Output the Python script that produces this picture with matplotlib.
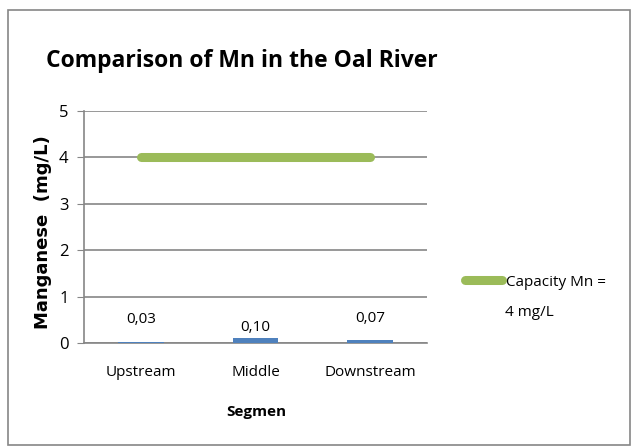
import matplotlib
matplotlib.use("Agg")
import matplotlib.pyplot as plt
from matplotlib.patches import Rectangle

# data
segments = ["Upstream", "Middle", "Downstream"]
mn_values = [0.03, 0.10, 0.07]
mn_labels = ["0,03", "0,10", "0,07"]
capacity = [4, 4, 4]
yticks = [0, 1, 2, 3, 4, 5]

plt.rcParams['font.family'] = ['Open Sans', 'DejaVu Sans']

fig = plt.figure(figsize=(6.32, 4.47), dpi=100)
ax = fig.add_axes([84/632, 1 - 343/447, 343/632, 232/447])

x = list(range(len(segments)))
ax.bar(x, mn_values, width=0.4, color="#4F81BD", zorder=3)
ax.plot(x, capacity, color="#9BBB59", lw=6.5, solid_capstyle="round", zorder=4,
        label="Capacity Mn =")

# data labels (Excel placed them a little unevenly)
label_offsets = [16, 8, 15]
for xi, v, lab, off in zip(x, mn_values, mn_labels, label_offsets):
    ax.annotate(lab, (xi, v), xytext=(0, off), textcoords="offset points",
                ha="center", va="center", fontsize=11)

ax.set_xlim(-0.5, 2.5)
ax.set_ylim(0, 5)
ax.set_yticks(yticks)
ax.set_xticks(x)
ax.set_xticklabels(segments, fontsize=11)
ax.tick_params(axis="y", labelsize=12, length=5, color="#868686", pad=6)
ax.tick_params(axis="x", length=0, pad=16)
ax.yaxis.grid(True, color="#868686", lw=1.2, zorder=0)
for s in ["top", "right"]:
    ax.spines[s].set_visible(False)
ax.spines["left"].set_color("#868686")
ax.spines["bottom"].set_color("#868686")
ax.spines["left"].set_linewidth(1.2)
ax.spines["bottom"].set_linewidth(1.2)

ax.set_xlabel("Segmen", fontsize=11, fontweight="bold")
ax.xaxis.set_label_coords(256/632, 1 - 412/447, transform=fig.transFigure)
ax.xaxis.label.set_va("center")
ax.set_ylabel("Manganese  (mg/L)", family="DejaVu Sans", fontsize=13,
              fontweight="bold")
ax.yaxis.set_label_coords(43/632, 1 - 232/447, transform=fig.transFigure)
ax.yaxis.label.set_va("center")

fig.suptitle("Comparison of Mn in the Oal River", x=242/632, y=1 - 61/447,
             va="center", fontsize=16.5, fontweight="bold")

leg = ax.legend(loc="center left", bbox_to_anchor=(465/632, 1 - 282/447),
                bbox_transform=fig.transFigure, frameon=False, fontsize=11,
                handlelength=2.4, handletextpad=0.3, borderpad=0, borderaxespad=0)
fig.text(505/632, 1 - 312/447, "4 mg/L", fontsize=11, va="center")

# outer chart border
fig.add_artist(Rectangle((8/632, 2/447), 622/632, 435/447, transform=fig.transFigure,
                         fill=False, edgecolor="#868686", lw=1.2))

fig.savefig("out.png", dpi=100)
